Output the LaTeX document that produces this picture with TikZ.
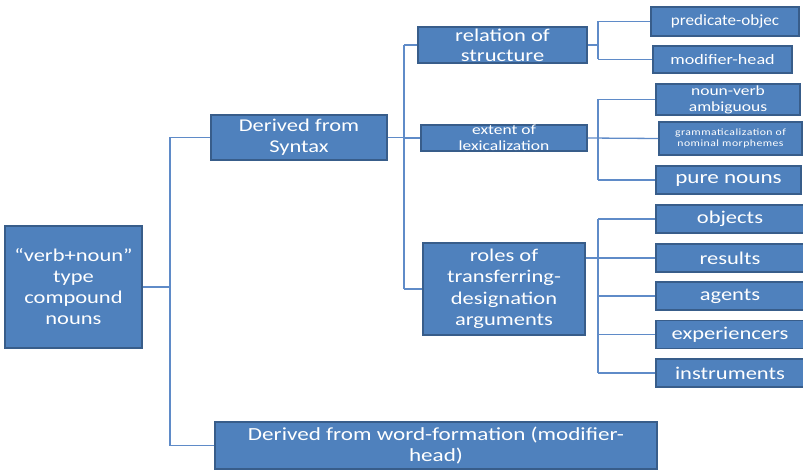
\documentclass[tikz,border=0pt]{standalone}
\usepackage{fontspec}
\setmainfont{Carlito}
\newfontfamily\wide[FakeStretch=1.25]{Carlito}
\newfontfamily\slim[FakeStretch=1.1]{Carlito}
\newfontfamily\spaced[FakeStretch=1.22,LetterSpace=5]{Carlito}
\definecolor{boxfill}{HTML}{4F81BD}
\definecolor{boxedge}{HTML}{385D8A}
\definecolor{linkcol}{HTML}{5F8BC8}
\newcommand{\fs}[2]{\fontsize{#1}{#2}\selectfont}
\begin{document}
\begin{tikzpicture}[x=1pt,y=-1pt,
  box/.style={rectangle, draw=boxedge, fill=boxfill, line width=1.6pt,
    text=white, align=center, inner sep=0pt},
  conn/.style={draw=linkcol, line width=1.3pt}]
\useasboundingbox (0,0) rectangle (803,470);

% level 0 and 1
\node[box, minimum width=137, minimum height=122, font={\wide\fs{18}{21}}] (root) at (73.5,287)
  {“verb+noun”\\type\\compound\\nouns};
\node[box, minimum width=176, minimum height=45, font={\wide\fs{18}{21}}] (syn) at (299,137.5)
  {Derived from\\Syntax};
\node[box, minimum width=442, minimum height=47, font={\wide\fs{18.5}{21}}] (wf) at (436,445.5)
  {Derived from word-formation (modifier-\\head)};

% level 2
\node[box, minimum width=169, minimum height=36, font={\wide\fs{18}{20}}] (rel) at (502.5,45)
  {relation of\\structure};
\node[box, minimum width=166, minimum height=26, font={\wide\fs{14}{16}}] (ext) at (504,138)
  {extent of\\lexicalization};
\node[box, minimum width=162, minimum height=92, font={\wide\fs{18}{21.5}}] (roles) at (504,289)
  {roles of\\transferring-\\designation\\arguments};

% level 3
\node[box, minimum width=148, minimum height=29, font={\slim\fs{15.5}{17}}] (pred) at (725,21.5)
  {predicate-objec};
\node[box, minimum width=139, minimum height=27, font={\wide\fs{14.5}{17}}] (mod) at (722.5,59.5)
  {modifier-head};
\node[box, minimum width=144, minimum height=31, font={\wide\fs{14}{16}}] (nva) at (728,99.5)
  {noun-verb\\ambiguous};
\node[box, minimum width=143, minimum height=33, font={\spaced\fs{9.6}{11.5}}] (gram) at (730.5,138.5)
  {grammaticalization of\\nominal morphemes};
\node[box, minimum width=145, minimum height=28, font={\wide\fs{18.5}{20}}] (pure) at (728.5,180)
  {pure nouns};
\node[box, minimum width=148, minimum height=28, font={\wide\fs{18}{20}}] (obj) at (730,219)
  {objects};
\node[box, minimum width=148, minimum height=28, font={\wide\fs{18}{20}}] (res) at (730,258)
  {results};
\node[box, minimum width=148, minimum height=28, font={\wide\fs{18}{20}}] (agt) at (730,296)
  {agents};
\node[box, minimum width=148, minimum height=28, font={\wide\fs{18}{20}}] (exp) at (730,334.5)
  {experiencers};
\node[box, minimum width=148, minimum height=28, font={\wide\fs{18}{20}}] (ins) at (730,373)
  {instruments};

% bus lines
\coordinate (b1) at (170,0);
\coordinate (b2) at (404,0);
\coordinate (b3) at (598,0);

\draw[conn] (root.east) -- (root.east -| b1);
\draw[conn] (b1 |- syn.west) -- (b1 |- wf.west);
\draw[conn] (b1 |- syn.west) -- (syn.west);
\draw[conn] (b1 |- wf.west) -- (wf.west);

\draw[conn] (syn.east) -- (syn.east -| b2);
\draw[conn] (b2 |- rel.west) -- (b2 |- roles.west);
\draw[conn] (b2 |- rel.west) -- (rel.west);
\draw[conn] (b2 |- ext.west) -- (ext.west);
\draw[conn] (b2 |- roles.west) -- (roles.west);

\draw[conn] (rel.east) -- (rel.east -| b3);
\draw[conn] (b3 |- pred.west) -- (b3 |- mod.west);
\draw[conn] (b3 |- pred.west) -- (pred.west);
\draw[conn] (b3 |- mod.west) -- (mod.west);

\draw[conn] (ext.east) -- (gram.west);
\draw[conn] (b3 |- nva.west) -- (b3 |- pure.west);
\draw[conn] (b3 |- nva.west) -- (nva.west);
\draw[conn] (b3 |- pure.west) -- (pure.west);

\draw[conn] (roles.east |- res.west) -- (res.west);
\draw[conn] (b3 |- obj.west) -- (b3 |- ins.west);
\draw[conn] (b3 |- obj.west) -- (obj.west);
\draw[conn] (b3 |- agt.west) -- (agt.west);
\draw[conn] (b3 |- exp.west) -- (exp.west);
\draw[conn] (b3 |- ins.west) -- (ins.west);
\end{tikzpicture}
\end{document}
